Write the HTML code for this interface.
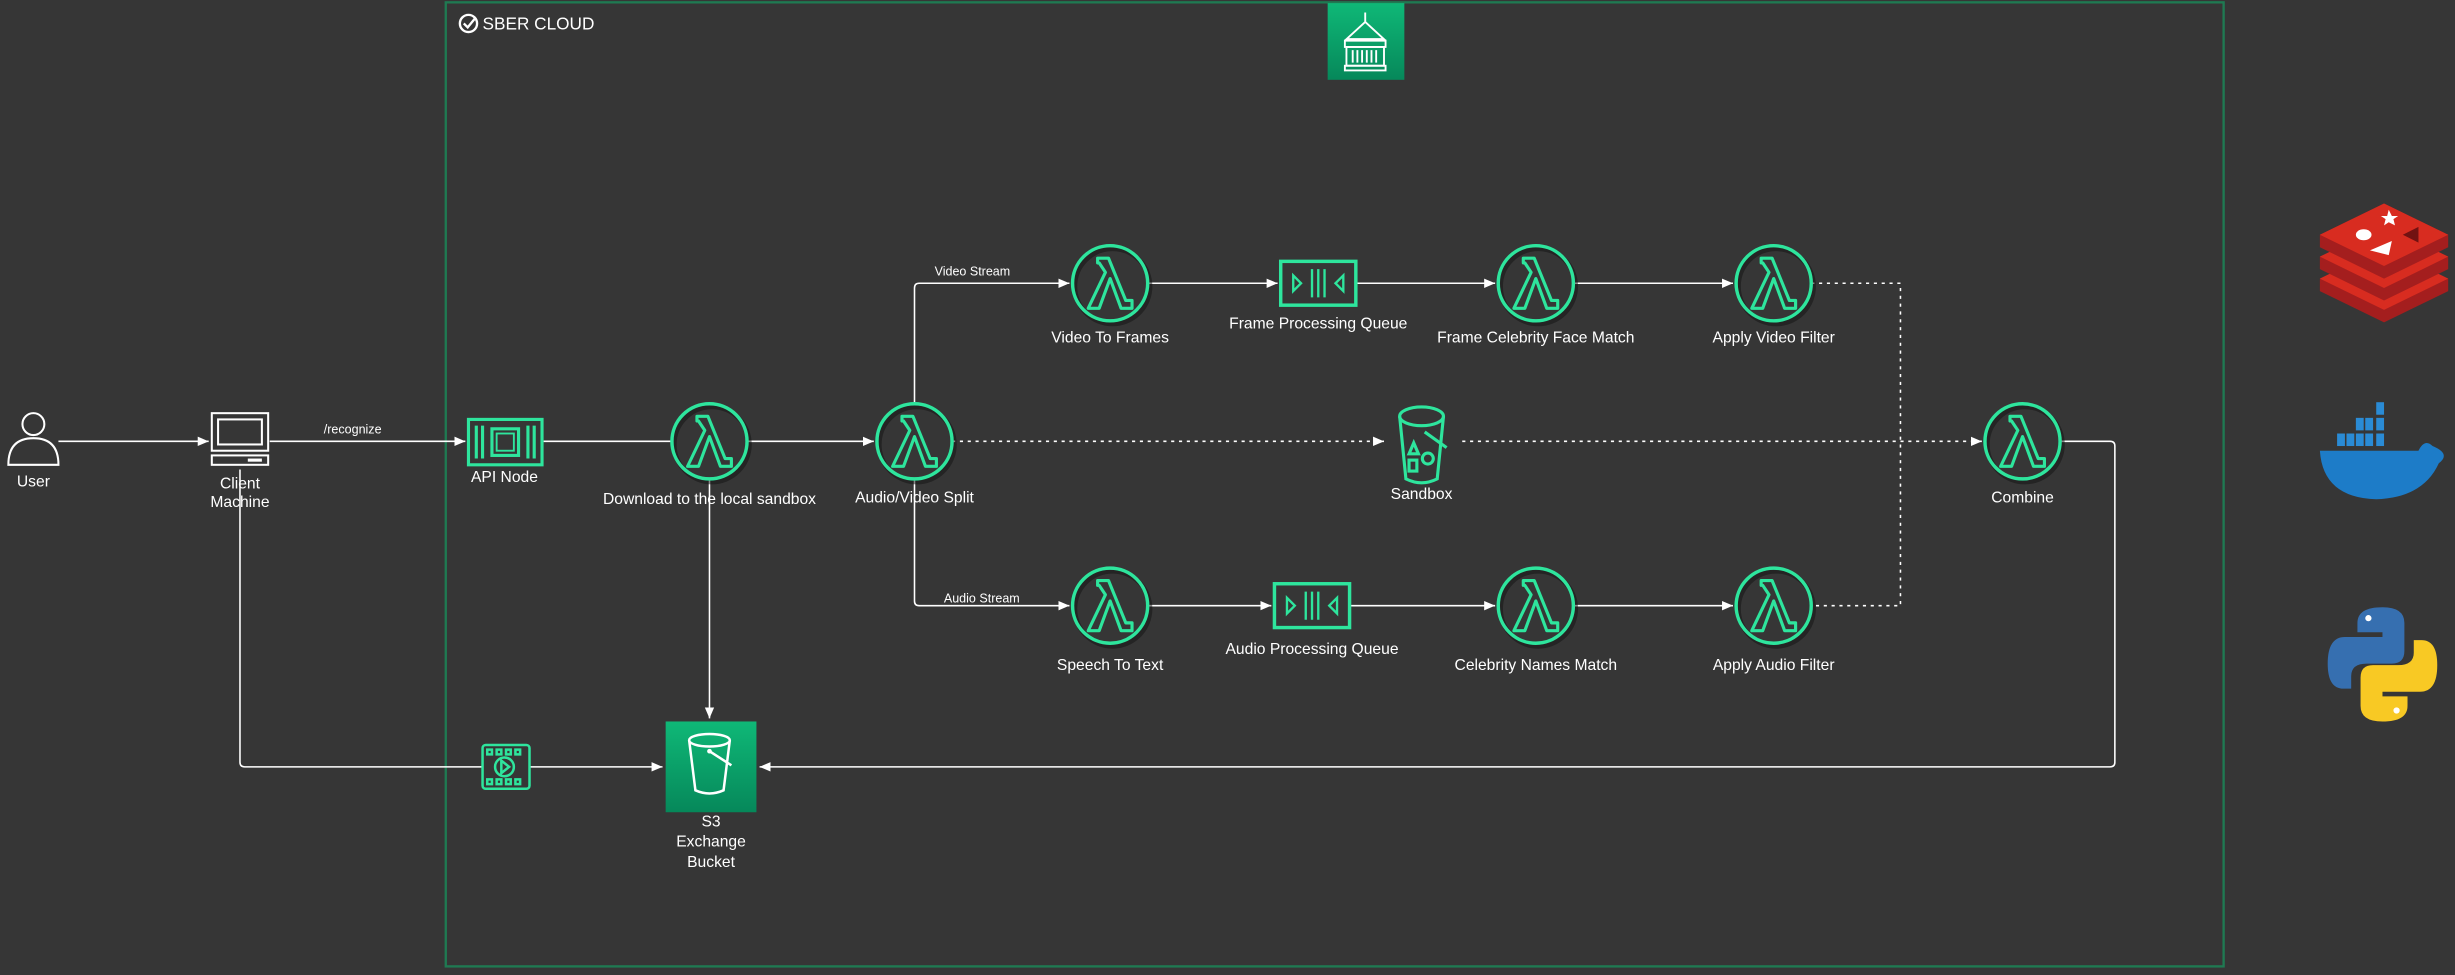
<!DOCTYPE html>
<html><head><meta charset="utf-8"><style>
html,body{margin:0;padding:0;background:#363636;}
svg{display:block;}
text{font-family:"Liberation Sans",sans-serif;fill:#fff;}
</style></head><body>
<svg width="2455" height="975" viewBox="0 0 1568 623" xmlns="http://www.w3.org/2000/svg">
<defs>
<marker id="ar" markerWidth="8" markerHeight="8" refX="7" refY="4" orient="auto" markerUnits="userSpaceOnUse"><path d="M0,1 L7,4 L0,7 Z" fill="#fff"/></marker>
<linearGradient id="gg" x1="0" y1="0" x2="0" y2="1"><stop offset="0" stop-color="#0fb877"/><stop offset="1" stop-color="#06885a"/></linearGradient>
<g id="lam">
<circle r="24" fill="none" stroke="#111" stroke-opacity="0.5" stroke-width="3" transform="translate(1.5,2)"/>
<circle r="24" fill="none" stroke="#2ee59d" stroke-width="2.2"/>
<path d="M-8,-16 L-1,-16 L10,11 L14,11 L14,16 L7,16 L0,-3 L-7,16 L-14,16 L-3,-7 L-7,-13 L-8,-13 Z" fill="none" stroke="#2ee59d" stroke-width="2" stroke-linejoin="round"/>
</g>
<g id="que">
<rect x="-24" y="-14" width="48" height="28" fill="none" stroke="#2ee59d" stroke-width="2.2"/>
<path d="M-16,-5 L-11,0 L-16,5 Z M16,-5 L11,0 L16,5 Z" fill="none" stroke="#2ee59d" stroke-width="1.5"/>
<path d="M-4,-9 V9 M0,-9 V9 M4,-9 V9" stroke="#2ee59d" stroke-width="1.5"/>
</g>
</defs>
<rect width="1568" height="623" fill="#363636"/>
<rect x="284.5" y="1.5" width="1136" height="616" fill="none" stroke="#1f7a52" stroke-width="1.5"/>
<!-- sber logo -->
<circle cx="299" cy="15" r="5.5" fill="none" stroke="#fff" stroke-width="1.5"/>
<path d="M296,15 L298.5,17.5 L303,12" fill="none" stroke="#fff" stroke-width="1.5"/>
<text x="308" y="19" font-size="11">SBER CLOUD</text>
<!-- top building -->
<rect x="848" y="2" width="49" height="49" fill="url(#gg)"/>
<g stroke="#fff" fill="none" stroke-width="1.2">
<path d="M872,8 V14 M872,14 L860,25 H884 Z"/>
<rect x="859" y="26" width="26" height="4"/><rect x="860" y="30" width="24" height="12"/><rect x="859" y="42" width="26" height="3"/>
<path d="M864,32V40 M867,32V40 M870,32V40 M873,32V40 M876,32V40 M879,32V40"/>
</g>
<!-- connectors -->
<g stroke="#fff" stroke-width="1" fill="none">
<line x1="37" y1="282" x2="133" y2="282" marker-end="url(#ar)"/>
<line x1="172" y1="282" x2="297" y2="282" marker-end="url(#ar)"/>
<line x1="347" y1="282" x2="429" y2="282"/>
<line x1="477" y1="282" x2="558" y2="282" marker-end="url(#ar)"/>
<path d="M584,258 V184 Q584,181 587,181 H683" marker-end="url(#ar)"/>
<path d="M584,306 V384 Q584,387 587,387 H683" marker-end="url(#ar)"/>
<line x1="733" y1="181" x2="816" y2="181" marker-end="url(#ar)"/>
<line x1="866" y1="181" x2="955" y2="181" marker-end="url(#ar)"/>
<line x1="1005" y1="181" x2="1107" y2="181" marker-end="url(#ar)"/>
<line x1="733" y1="387" x2="812" y2="387" marker-end="url(#ar)"/>
<line x1="862" y1="387" x2="955" y2="387" marker-end="url(#ar)"/>
<line x1="1005" y1="387" x2="1107" y2="387" marker-end="url(#ar)"/>
<line x1="453" y1="306" x2="453" y2="459" marker-end="url(#ar)"/>
<path d="M153,300 V487 Q153,490 156,490 H308"/>
<line x1="338" y1="490" x2="423" y2="490" marker-end="url(#ar)"/>
<path d="M1316,282 H1348 Q1351,282 1351,285 V487 Q1351,490 1348,490 H485" marker-end="url(#ar)"/>
<g stroke-dasharray="2,3">
<line x1="608" y1="282" x2="884" y2="282" marker-end="url(#ar)"/>
<line x1="934" y1="282" x2="1266" y2="282" marker-end="url(#ar)"/>
<path d="M1157,181 H1214 V387 H1157"/>
</g>
</g>
<!-- user -->
<g stroke="#fff" stroke-width="1.3" fill="none">
<circle cx="21" cy="271" r="7"/>
<path d="M5,297 Q5,280 21,280 Q37,280 37,297 Z"/>
<rect x="135" y="264" width="36" height="24"/><rect x="139" y="268" width="28" height="16"/>
<rect x="135" y="291" width="36" height="6"/><line x1="158" y1="294" x2="167" y2="294" stroke-width="2"/>
</g>
<text x="21" y="311" font-size="10" text-anchor="middle">User</text>
<text x="153" y="312" font-size="10" text-anchor="middle">Client</text>
<text x="153" y="324" font-size="10" text-anchor="middle">Machine</text>
<text x="225" y="277" font-size="8" text-anchor="middle">/recognize</text>
<!-- API node -->
<g stroke="#2ee59d" stroke-width="2" fill="none">
<rect x="299" y="268" width="47" height="29"/>
<path d="M304,272V293 M308,272V293 M337,272V293 M341,272V293"/>
<rect x="314" y="274" width="17" height="17"/><rect x="317" y="277" width="11" height="11" stroke-width="1.2"/>
</g>
<text x="322" y="308" font-size="10" text-anchor="middle">API Node</text>
<!-- lambdas -->
<use href="#lam" x="453" y="282"/>
<use href="#lam" x="584" y="282"/>
<use href="#lam" x="709" y="181"/>
<use href="#lam" x="981" y="181"/>
<use href="#lam" x="1133" y="181"/>
<use href="#lam" x="709" y="387"/>
<use href="#lam" x="981" y="387"/>
<use href="#lam" x="1133" y="387"/>
<use href="#lam" x="1292" y="282"/>
<use href="#que" x="842" y="181"/>
<use href="#que" x="838" y="387"/>
<text x="453" y="322" font-size="10" text-anchor="middle">Download to the local sandbox</text>
<text x="584" y="321" font-size="10" text-anchor="middle">Audio/Video Split</text>
<text x="621" y="176" font-size="8" text-anchor="middle">Video Stream</text>
<text x="627" y="385" font-size="8" text-anchor="middle">Audio Stream</text>
<text x="709" y="219" font-size="10" text-anchor="middle">Video To Frames</text>
<text x="842" y="210" font-size="10" text-anchor="middle">Frame Processing Queue</text>
<text x="981" y="219" font-size="10" text-anchor="middle">Frame Celebrity Face Match</text>
<text x="1133" y="219" font-size="10" text-anchor="middle">Apply Video Filter</text>
<text x="709" y="428" font-size="10" text-anchor="middle">Speech To Text</text>
<text x="838" y="418" font-size="10" text-anchor="middle">Audio Processing Queue</text>
<text x="981" y="428" font-size="10" text-anchor="middle">Celebrity Names Match</text>
<text x="1133" y="428" font-size="10" text-anchor="middle">Apply Audio Filter</text>
<text x="1292" y="321" font-size="10" text-anchor="middle">Combine</text>
<!-- sandbox -->
<g stroke="#2ee59d" stroke-width="2" fill="none">
<ellipse cx="908" cy="266" rx="14" ry="6"/>
<path d="M894,266 L898,306 Q908,311 918,306 L922,266"/>
<path d="M900,290 L903,283 L906,290 Z"/><rect x="900" y="294" width="5" height="7"/><circle cx="912" cy="293" r="3.5"/>
<path d="M910,276 L924,286"/>
</g>
<text x="908" y="319" font-size="10" text-anchor="middle">Sandbox</text>
<!-- video icon -->
<g stroke="#2ee59d" stroke-width="1.6" fill="none">
<rect x="308" y="476" width="30" height="28" rx="2"/>
<path d="M311,479h3v3h-3z M317,479h3v3h-3z M323,479h3v3h-3z M329,479h3v3h-3z M311,498h3v3h-3z M317,498h3v3h-3z M323,498h3v3h-3z M329,498h3v3h-3z"/>
<circle cx="322" cy="490" r="6"/><path d="M320,486 L325,490 L320,494 Z"/>
</g>
<!-- S3 -->
<rect x="425" y="461" width="58" height="58" fill="url(#gg)"/>
<g stroke="#fff" stroke-width="1.6" fill="none">
<ellipse cx="453" cy="473" rx="13" ry="4"/>
<path d="M440,473 L444,505 Q453,509 462,505 L466,473"/>
<path d="M453,480 L467,489"/>
</g>
<circle cx="453" cy="480" r="1.5" fill="#fff"/>
<text x="454" y="528" font-size="10" text-anchor="middle">S3</text>
<text x="454" y="541" font-size="10" text-anchor="middle">Exchange</text>
<text x="454" y="554" font-size="10" text-anchor="middle">Bucket</text>
<!-- redis -->
<g>
<path d="M1482,178 L1523,158 L1564,178 V186 L1523,206 L1482,186 Z" fill="#a41e1e"/>
<path d="M1482,178 L1523,158 L1564,178 L1523,198 Z" fill="#d82c20"/>
<path d="M1482,164 L1523,144 L1564,164 V172 L1523,192 L1482,172 Z" fill="#a41e1e"/>
<path d="M1482,164 L1523,144 L1564,164 L1523,184 Z" fill="#d82c20"/>
<path d="M1482,150 L1523,130 L1564,150 V158 L1523,178 L1482,158 Z" fill="#a41e1e"/>
<path d="M1482,150 L1523,130 L1564,150 L1523,170 Z" fill="#d82c20"/>
<ellipse cx="1510" cy="150" rx="5" ry="3.5" fill="#fff"/>
<path d="M1526,134 l2,4 l4,0 l-3,2 l1,4 l-4,-2 l-3,2 l1,-4 l-3,-2 l4,0 z" fill="#fff"/>
<path d="M1514,160 L1528,154 L1526,163 Z" fill="#fff"/>
<path d="M1535,150 L1545,145 L1545,155 Z" fill="#721212"/>
</g>
<!-- docker -->
<g fill="#2a8bd5">
<rect x="1518" y="257" width="5" height="8"/>
<rect x="1505" y="267" width="5" height="8"/><rect x="1511" y="267" width="5" height="8"/><rect x="1518" y="267" width="5" height="8"/>
<rect x="1493" y="277" width="5" height="8"/><rect x="1499" y="277" width="5" height="8"/><rect x="1505" y="277" width="5" height="8"/><rect x="1511" y="277" width="5" height="8"/><rect x="1518" y="277" width="5" height="8"/>
<path d="M1482,288 H1545 Q1549,280 1554,285 Q1566,290 1558,296 Q1548,318 1518,319 Q1484,318 1482,288 Z" fill="#1d7cc8"/>
</g>
<!-- python -->
<path d="M1522,388 Q1506,388 1506,398 V404 H1522 V407 H1498 Q1487,407 1487,424 Q1487,440 1497,440 H1502 V432 Q1502,424 1512,424 H1528 Q1536,424 1536,416 V398 Q1536,388 1522,388 Z" fill="#366fb0"/>
<path d="M1522,461 Q1538,461 1538,451 V445 H1522 V442 H1546 Q1557,442 1557,425 Q1557,409 1547,409 H1542 V417 Q1542,425 1532,425 H1516 Q1508,425 1508,433 V451 Q1508,461 1522,461 Z" fill="#f8c924"/>
<circle cx="1513" cy="395" r="2" fill="#fff"/><circle cx="1531" cy="454" r="2" fill="#fff"/>
</svg>
</body></html>
